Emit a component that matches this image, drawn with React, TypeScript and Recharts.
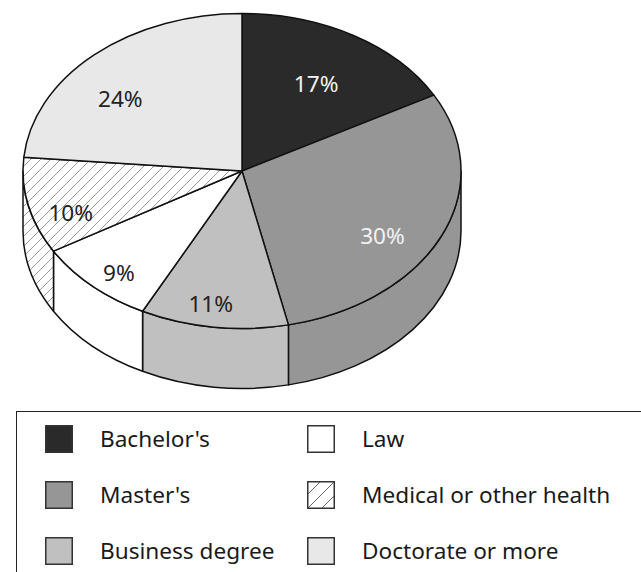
import { PieChart, Pie } from 'recharts'

const CATEGORIES = [
  "Bachelor's",
  "Master's",
  'Business degree',
  'Law',
  'Medical or other health',
  'Doctorate or more',
]
const SHARES = [17, 29.6, 10.9, 9, 9.9, 23.6]
const FILLS = ['#2a2a2a', '#969696', '#c0c0c0', '#ffffff', 'url(#hatch)', '#e8e8e8']
const LEGEND_FILLS = ['#2a2a2a', '#969696', '#c0c0c0', '#ffffff', 'url(#hatchLegend)', '#e8e8e8']
const LABEL_COLORS = ['#f2f2f2', '#f2f2f2', '#222', '#222', '#222', '#222']

const FONT = '"Noto Sans", "Open Sans", sans-serif'
const RATIO = 0.719 // vertical squash of the tilted pie
const DEPTH = 60
const RAD = Math.PI / 180

const data = CATEGORIES.map((name, i) => ({ name, value: SHARES[i] }))

function pt(cx: number, cy: number, r: number, a: number, dy = 0) {
  return `${cx + r * Math.cos(a * RAD)},${cy - r * RATIO * Math.sin(a * RAD) + dy}`
}

// draws the whole 3d slice (wall + top + label) from the angles recharts computed
function renderSlice(props: any) {
  const { cx, cy, outerRadius: r, startAngle, endAngle, midAngle, index, value } = props
  const hi = Math.max(startAngle, endAngle)
  const lo = Math.min(startAngle, endAngle)
  const ry = r * RATIO
  const large = hi - lo > 180 ? 1 : 0
  const top = `M${cx},${cy} L${pt(cx, cy, r, hi)} A${r},${ry} 0 ${large} 1 ${pt(cx, cy, r, lo)} Z`

  // front wall is visible for angles between -180 and 0
  const s = Math.min(hi, 0)
  const e = Math.max(lo, -180)
  let wall = null
  if (s > e) {
    const d = `M${pt(cx, cy, r, s)} A${r},${ry} 0 0 1 ${pt(cx, cy, r, e)} L${pt(cx, cy, r, e, DEPTH)} A${r},${ry} 0 0 0 ${pt(cx, cy, r, s, DEPTH)} Z`
    wall = <path d={d} fill={FILLS[index]} stroke="#111" strokeWidth={1.5} strokeLinejoin="round" />
  }

  // labels sit on a smaller ellipse, nudged toward the middle of the solid
  const lr = r * 0.755
  const lx = cx - 10 + lr * Math.cos(midAngle * RAD)
  const ly = cy + DEPTH / 4 - lr * RATIO * Math.sin(midAngle * RAD)

  return (
    <g key={`slice-${index}`}>
      {wall}
      <path d={top} fill={FILLS[index]} stroke="#111" strokeWidth={1.5} strokeLinejoin="round" />
      <text
        x={lx}
        y={ly}
        textAnchor="middle"
        dominantBaseline="central"
        fill={LABEL_COLORS[index]}
        fontFamily={FONT}
        fontSize={22.6}
      >
        {`${Math.round(value)}%`}
      </text>
    </g>
  )
}

const LEGEND_COLS = [45, 307]
const LEGEND_ROWS = [438.5, 494.5, 550.5]

export default function App() {
  return (
    <div
      style={{
        position: 'absolute',
        left: 0,
        top: 0,
        width: 641,
        height: 572,
        overflow: 'hidden',
        background: '#fff',
        fontFamily: FONT,
      }}
    >
      <svg width={0} height={0} style={{ position: 'absolute' }}>
        <defs>
          <pattern id="hatch" patternUnits="userSpaceOnUse" width={10} height={10}>
            <rect width={10} height={10} fill="#fff" />
            <path d="M-1,1 l2,-2 M0,10 l10,-10 M9,11 l2,-2" stroke="#9a9a9a" strokeWidth={1} />
          </pattern>
          <pattern id="hatchLegend" patternUnits="userSpaceOnUse" width={14} height={14}>
            <rect width={14} height={14} fill="#fff" />
            <path d="M-1,1 l2,-2 M0,14 l14,-14 M13,15 l2,-2" stroke="#666" strokeWidth={1} />
          </pattern>
        </defs>
      </svg>

      <PieChart width={641} height={400} margin={{ top: 0, right: 0, bottom: 0, left: 0 }}>
        <Pie
          data={data}
          dataKey="value"
          nameKey="name"
          cx={242}
          cy={171}
          outerRadius={219}
          startAngle={90}
          endAngle={-270}
          fill="none"
          stroke="none"
          label={renderSlice}
          labelLine={false}
          isAnimationActive={false}
        />
      </PieChart>

      <div
        style={{
          position: 'absolute',
          left: 16,
          top: 411,
          width: 700,
          height: 300,
          border: '1.5px solid #222',
          boxSizing: 'border-box',
        }}
      />
      {CATEGORIES.map((name, i) => {
        const col = LEGEND_COLS[Math.floor(i / 3)]
        const row = LEGEND_ROWS[i % 3]
        return (
          <div key={name}>
            <svg
              width={28}
              height={28}
              style={{ position: 'absolute', left: col, top: row - 14 }}
            >
              <rect x={0.75} y={0.75} width={26.5} height={26.5} fill={LEGEND_FILLS[i]} stroke="#333" strokeWidth={1.5} />
            </svg>
            <span
              style={{
                position: 'absolute',
                left: col + 55,
                top: row - 15,
                lineHeight: '30px',
                fontSize: 22.6,
                color: '#1a1a1a',
                whiteSpace: 'nowrap',
              }}
            >
              {name}
            </span>
          </div>
        )
      })}
    </div>
  )
}
